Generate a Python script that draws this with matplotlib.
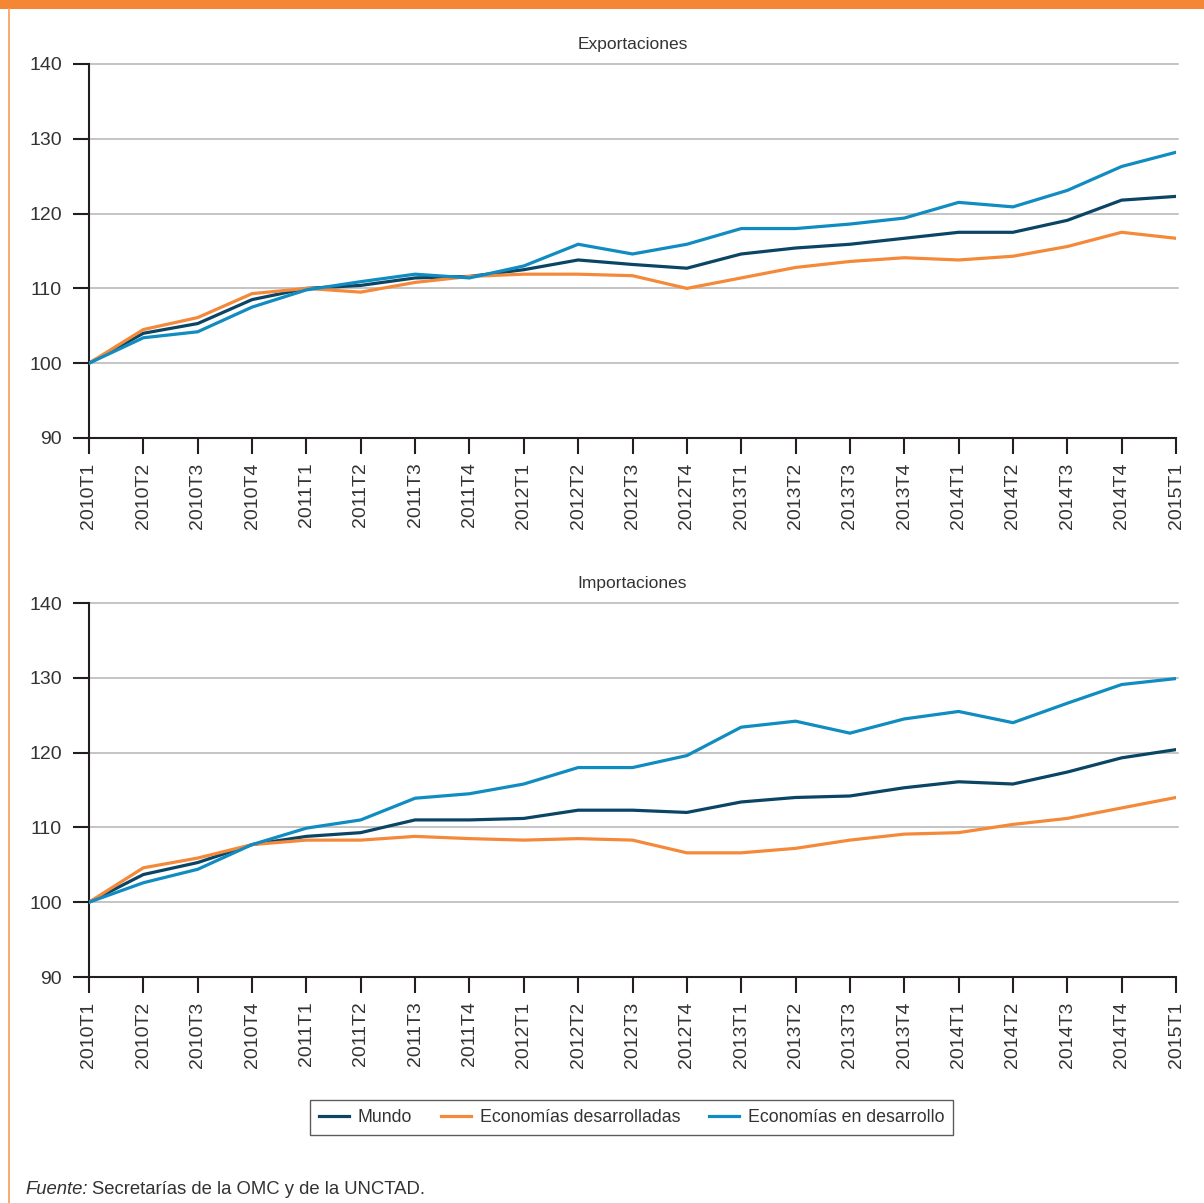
import matplotlib
matplotlib.use("Agg")
import matplotlib.pyplot as plt
from matplotlib.patches import Rectangle
from matplotlib.lines import Line2D

plt.rcParams['font.family'] = ['Liberation Sans', 'DejaVu Sans']

quarters = ['2010T1', '2010T2', '2010T3', '2010T4', '2011T1', '2011T2', '2011T3', '2011T4',
            '2012T1', '2012T2', '2012T3', '2012T4', '2013T1', '2013T2', '2013T3', '2013T4',
            '2014T1', '2014T2', '2014T3', '2014T4', '2015T1']

series_names = ['Mundo', 'Economías desarrolladas', 'Economías en desarrollo']

mundo_exp = [100, 104.0, 105.3, 108.5, 110.0, 110.4, 111.4, 111.6, 112.5, 113.8, 113.2,
             112.7, 114.6, 115.4, 115.9, 116.7, 117.5, 117.5, 119.1, 121.8, 122.3]
desar_exp = [100, 104.5, 106.1, 109.3, 110.0, 109.5, 110.8, 111.6, 111.9, 111.9, 111.7,
             110.0, 111.4, 112.8, 113.6, 114.1, 113.8, 114.3, 115.6, 117.5, 116.7]
endes_exp = [100, 103.4, 104.2, 107.5, 109.8, 110.9, 111.9, 111.4, 113.0, 115.9, 114.6,
             115.9, 118.0, 118.0, 118.6, 119.4, 121.5, 120.9, 123.1, 126.3, 128.2]

mundo_imp = [100, 103.7, 105.3, 107.7, 108.8, 109.3, 111.0, 111.0, 111.2, 112.3, 112.3,
             112.0, 113.4, 114.0, 114.2, 115.3, 116.1, 115.8, 117.4, 119.3, 120.4]
desar_imp = [100, 104.6, 105.9, 107.7, 108.3, 108.3, 108.8, 108.5, 108.3, 108.5, 108.3,
             106.6, 106.6, 107.2, 108.3, 109.1, 109.3, 110.4, 111.2, 112.6, 114.0]
endes_imp = [100, 102.6, 104.4, 107.7, 109.9, 111.0, 113.9, 114.5, 115.8, 118.0, 118.0,
             119.6, 123.4, 124.2, 122.6, 124.5, 125.5, 124.0, 126.6, 129.1, 129.9]

y_ticks = [90, 100, 110, 120, 130, 140]
titles = ['Exportaciones', 'Importaciones']

colors = ['#0b4565', '#f5893a', '#108cc0']
W, H = 1204, 1203
fig = plt.figure(figsize=(W / 100, H / 100), dpi=100)
fig.patch.set_facecolor('white')

# decorative frame
fig.patches.append(Rectangle((0, 1 - 9 / H), 1, 9 / H, transform=fig.transFigure,
                             facecolor='#f58634', edgecolor='none'))
fig.lines.append(Line2D([8.5 / W, 8.5 / W], [0, 1 - 9 / H], transform=fig.transFigure,
                        color='#f7a467', lw=1.3))

left = 89 / W
width = (1176 - 89) / W
ax_h = 374 / H
bottoms = [1 - 438 / H, 1 - 977 / H]
data = [[mundo_exp, desar_exp, endes_exp], [mundo_imp, desar_imp, endes_imp]]

x = list(range(len(quarters)))
handles = None
for i in range(2):
    ax = fig.add_axes([left, bottoms[i], width, ax_h])
    hs = []
    for vals, c, name in zip(data[i], colors, series_names):
        h, = ax.plot(x, vals, color=c, lw=2.3, label=name, solid_joinstyle='miter', zorder=3)
        hs.append(h)
    handles = hs
    ax.set_xlim(0, len(quarters) - 1)
    ax.set_ylim(90, 140)
    ax.set_yticks(y_ticks)
    ax.set_xticks(x)
    ax.set_xticklabels(quarters, rotation=90)
    for yv in y_ticks[1:]:
        ax.axhline(yv, color='#b4b4b4', lw=1.1, zorder=1, clip_on=False, xmax=1.002)
    for s in ['top', 'right']:
        ax.spines[s].set_visible(False)
    for s in ['left', 'bottom']:
        ax.spines[s].set_linewidth(1.5)
        ax.spines[s].set_color('#231f20')
    ax.tick_params(axis='both', direction='out', length=11.5, width=1.5, color='#231f20',
                   labelsize=14, labelcolor='#333333')
    ax.tick_params(axis='y', pad=8)
    ax.tick_params(axis='x', pad=6)
    ax.set_title(titles[i], fontsize=12.5, color='#333333', pad=11)

leg = fig.legend(handles, series_names, loc='center', bbox_to_anchor=(631.5 / W, 1 - 1117.5 / H),
                 ncol=3, frameon=True, fancybox=False, fontsize=12.8, handlelength=1.7,
                 handletextpad=0.5, columnspacing=1.6, borderpad=0.5, labelcolor='#333333')
leg.get_frame().set_edgecolor('#333333')
leg.get_frame().set_linewidth(1.0)

t1 = fig.text(25 / W, 1 - 1194 / H, 'Fuente:', fontsize=13.3, style='italic', color='#333333',
              va='baseline', ha='left')
fig.canvas.draw()
bb = t1.get_window_extent()
fig.text((bb.x1 + 4) / W, 1 - 1194 / H, 'Secretarías de la OMC y de la UNCTAD.', fontsize=13.3,
         color='#333333', va='baseline', ha='left')

fig.savefig('out.png', dpi=100, facecolor='white')
